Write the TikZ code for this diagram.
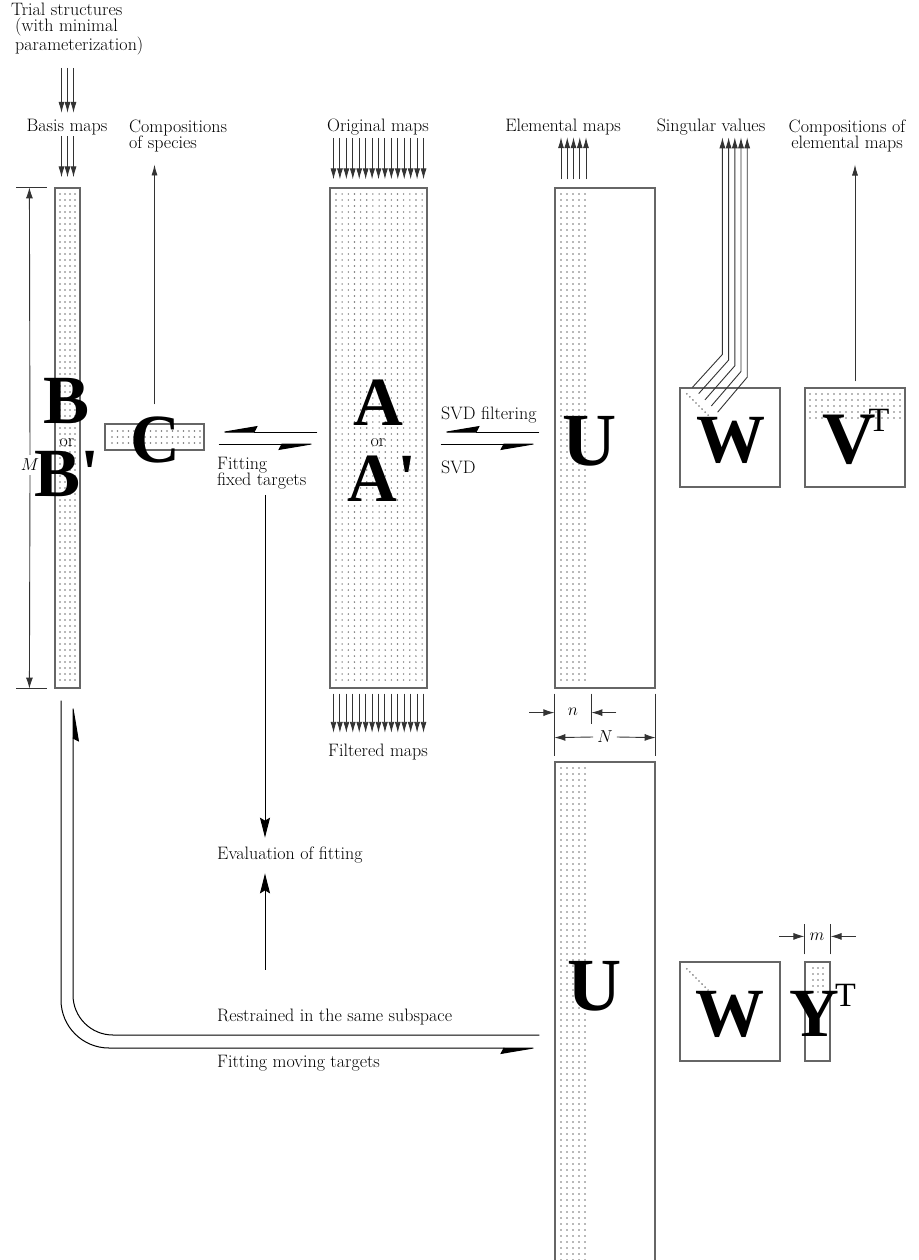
\documentclass[tikz,border=0pt]{standalone}
\usepackage{fontspec}
\usetikzlibrary{arrows.meta,calc}
\newfontfamily\bigf{Liberation Serif}
\definecolor{linec}{gray}{0.2}
\definecolor{boxc}{gray}{0.4}
\definecolor{dotc}{gray}{0.45}
\begin{document}
\begin{tikzpicture}[x=1pt,y=-1pt,
  lbl/.style={font=\fontsize{18}{16.5}\selectfont, inner sep=0pt},
  big/.style={font=\bigf\bfseries\fontsize{69}{69}\selectfont, inner sep=0pt, anchor=base},
  mat/.style={draw=boxc, line width=1.2pt, inner sep=0pt, rectangle},
  arr/.style={draw=linec, line width=0.9pt, -{Latex[length=11pt,width=6pt]}},
  harp/.style={draw=black, line width=1pt, -{Stealth[harpoon,swap,length=36pt,width=12pt,inset=3pt]}},
  bigarr/.style={draw=black, line width=1pt, -{Stealth[length=20pt,width=10pt,inset=3pt]}},
  dim/.style={draw=linec, line width=0.9pt},
  dimarr/.style={draw=linec, line width=0.9pt, -{Latex[length=11pt,width=7pt]}},
  dotdiag/.style={draw=dotc, line width=1.3pt, dash pattern=on 1.3pt off 3pt},
  dot/.style={fill=dotc},
]
\fill[white] (0,0) rectangle (918,1260);
\useasboundingbox (0,0) rectangle (918,1260);

% matrices
\node[mat, minimum width=25pt, minimum height=500pt] (B) at (67.5,438) {};
\node[mat, minimum width=99pt, minimum height=26pt] (Cm) at (154.5,437) {};
\node[mat, minimum width=97pt, minimum height=500pt] (A) at (378.5,438) {};
\node[mat, minimum width=100pt, minimum height=500pt] (U1) at (605,438) {};
\node[mat, minimum width=100pt, minimum height=99pt] (W1) at (730,437.5) {};
\node[mat, minimum width=100pt, minimum height=99pt] (V) at (855,437.5) {};
\node[mat, minimum width=100pt, minimum height=513pt] (U2) at (605,1018.5) {};
\node[mat, minimum width=100pt, minimum height=99pt] (W2) at (730,1011.5) {};
\node[mat, minimum width=25pt, minimum height=99pt] (Y) at (817.5,1011.5) {};

% dots
\foreach \x in {60,65,70,75} \foreach \y in {194,200,...,682} \fill[dot] (\x,\y) circle (0.8pt);
\foreach \x in {336,342.15,...,423} \foreach \y in {194,200,...,682} \fill[dot] (\x,\y) circle (0.8pt);
\foreach \x in {561,567,...,585} \foreach \y in {194,200,...,682} \fill[dot] (\x,\y) circle (0.8pt);
\foreach \x in {561,567,...,585} \foreach \y in {768,774,...,1260} \fill[dot] (\x,\y) circle (0.8pt);
\foreach \x in {810,816,...,900} \foreach \y in {394,400,...,418} \fill[dot] (\x,\y) circle (0.8pt);
\foreach \x in {813,818,823} \foreach \y in {968,974,...,992} \fill[dot] (\x,\y) circle (0.8pt);
\foreach \x in {112,117.5,...,200} \foreach \y in {431,437,443} \fill[dot] (\x,\y) circle (0.8pt);
\draw[dotdiag] ($(W1.north west)+(7,6)$) -- ($(W1.north west)+(32,31)$);
\draw[dotdiag] ($(W2.north west)+(7,7)$) -- ($(W2.north west)+(29,29)$);

% labels
\node[lbl, anchor=west, align=left] (trial) at (11,29) {Trial structures\\\hspace{4pt}(with minimal\\\hspace{4pt}parameterization)};
\node[lbl] (basis) at (67,127) {Basis maps};
\node[lbl, anchor=west, align=left] (comp) at (129,136) {Compositions\\of species};
\node[lbl] (orig) at (378,127) {Original maps};
\node[lbl] (elem) at (563,127) {Elemental maps};
\node[lbl] (sing) at (711,127) {Singular values};
\node[lbl, align=center] (compel) at (847,136) {Compositions of\\elemental maps};
\node[lbl] (M) at (30,465) {$M$};
\node[lbl, anchor=west] (svdf) at (441,415) {SVD filtering};
\node[lbl, anchor=west] (svd) at (441,467) {SVD};
\node[lbl, anchor=north west, align=left] (fft) at (217,457) {Fitting\\fixed targets};
\node[lbl] (filt) at (378,752) {Filtered maps};
\node[lbl, anchor=west] (eval) at (217,855) {Evaluation of fitting};
\node[lbl, anchor=west] (restr) at (217,1017) {Restrained in the same subspace};
\node[lbl, anchor=west] (fmt) at (217,1063) {Fitting moving targets};
\node[lbl] (n) at (573,712) {$n$};
\node[lbl] (N) at (605,737) {$N$};
\node[lbl] (m) at (817,937) {$m$};

% big letters
\node[big] (Bl) at (67,423) {B};
\node[lbl, anchor=base] (Bor) at (67,446) {or};
\node[big] (Bp) at (67,496) {B'};
\node[big] (Al) at (378,425) {A};
\node[lbl, anchor=base] (Aor) at (378,446) {or};
\node[big] (Ap) at (382,501) {A'};
\node[big] (Cl) at (155,462) {C};
\node[big, font=\bigf\bfseries\fontsize{75}{75}\selectfont] (U1l) at (590,465) {U};
\node[big] (W1l) at (731,462) {W};
\node[big, anchor=base west, font=\bigf\bfseries\fontsize{74}{74}\selectfont] (Vl) at (822,463) {V\kern-7pt\raisebox{32pt}{\fontsize{34}{34}\selectfont\mdseries T}};
\node[big, font=\bigf\bfseries\fontsize{75}{75}\selectfont] (U2l) at (595,1010) {U};
\node[big] (W2l) at (730,1036) {W};
\node[big, anchor=base west] (Yl) at (789,1036) {Y\kern-4pt\raisebox{30pt}{\fontsize{34}{34}\selectfont\mdseries T}};

% fans of arrows
\coordinate (tb) at (67.5,68);
\foreach \d in {-6,0,6} \draw[arr] ($(tb)+(\d,0)$) -- ($(basis.north -| B.north)+(\d,-6)$);
\foreach \d in {-6,0,6} \draw[arr] ($(basis.south -| B.north)+(\d,1)$) -- ($(B.north)+(\d,-10)$);
\foreach \i in {0,...,14} \draw[arr] ($(orig.south -| A.north)+(-45+6.43*\i,2.5)$) -- ($(A.north)+(-45+6.43*\i,-8)$);
\foreach \i in {0,...,14} \draw[arr] ($(A.south)+(-45+6.43*\i,5)$) -- ($(filt.north -| A.south)+(-45+6.43*\i,-11)$);
\foreach \i in {0,...,4} \draw[arr] ($(U1.north)+(-44+6.25*\i,-8)$) -- ($(elem.south -| U1.north)+(-44+6.25*\i,2)$);
\foreach \i in {0,...,4} \draw[arr] ($(W1.north west)+(13+6.3*\i,6.2*\i)$) -- ($(W1.north west)+(43+6.2*\i,-33+5.7*\i)$) -- ($(sing.south -| W1.north west)+(43+6.2*\i,2)$);
\draw[arr] ($(V.north)+(0,-6)$) -- ($(V.north |- compel.south)+(0,12)$);
\draw[arr] ($(Cm.north)+(0,-19)$) -- ($(Cm.north |- comp.south)+(0,12)$);

% M dimension
\draw[dim] ($(B.north west)+(-38,0)$) -- ($(B.north west)+(-7,0)$);
\draw[dim] ($(B.south west)+(-38,0)$) -- ($(B.south west)+(-7,0)$);
\draw[dimarr] ($(M.north)+(0,-4)$) -- ($(B.north west)+(-25,0)$);
\draw[dimarr] ($(M.south)+(0,4)$) -- ($(B.south west)+(-25,0)$);

% n, N dimensions
\draw[dim] ($(U1.south west)+(0,5)$) -- ($(U1.south west)+(0,67)$);
\draw[dim] ($(U1.south west)+(37,5)$) -- ($(U1.south west)+(37,35)$);
\draw[dim] ($(U1.south east)+(0,5)$) -- ($(U1.south east)+(0,67)$);
\draw[dimarr] ($(U1.south west)+(-25,24)$) -- ($(U1.south west)+(0,24)$);
\draw[dimarr] ($(U1.south west)+(62,24)$) -- ($(U1.south west)+(37,24)$);
\draw[dimarr] ($(N.west)+(-4,0)$) -- ($(U1.south west)+(0,49)$);
\draw[dimarr] ($(N.east)+(4,0)$) -- ($(U1.south east)+(0,49)$);

% m dimension
\draw[dim] ($(Y.north west)+(0,-7)$) -- ($(Y.north west)+(0,-37)$);
\draw[dim] ($(Y.north east)+(0,-7)$) -- ($(Y.north east)+(0,-37)$);
\draw[dimarr] ($(Y.north west)+(-25,-25)$) -- ($(Y.north west)+(0,-25)$);
\draw[dimarr] ($(Y.north east)+(25,-25)$) -- ($(Y.north east)+(0,-25)$);

% harpoons
\draw[harp] ($(A.west)+(-12,-6)$) -- ($(Cm.east)+(14,-5)$);
\draw[harp] ($(Cm.east)+(14,7)$) -- ($(A.west)+(-12,6)$);
\draw[harp] ($(U1.west)+(-15,-6)$) -- ($(A.east)+(13,-6)$);
\draw[harp] ($(A.east)+(13,6)$) -- ($(U1.west)+(-15,6)$);

% evaluation
\draw[bigarr] ($(fft.south west)+(48,5)$) -- ($(eval.north west)+(48,-9)$);
\draw[bigarr] ($(restr.north west)+(48,-39)$) -- ($(eval.south west)+(48,10)$);

% bottom curves
\coordinate (bo) at ($(B.south)+(-6.5,12)$);
\coordinate (bi) at ($(B.south)+(5.5,14)$);
\coordinate (uo) at ($(U2.west)+(-15,29.5)$);
\coordinate (ui) at ($(U2.west)+(-15,16.5)$);
\draw[harp, rounded corners=48pt] (bo) |- (uo);
\draw[harp, rounded corners=40pt] (ui) -| (bi);
\end{tikzpicture}
\end{document}
